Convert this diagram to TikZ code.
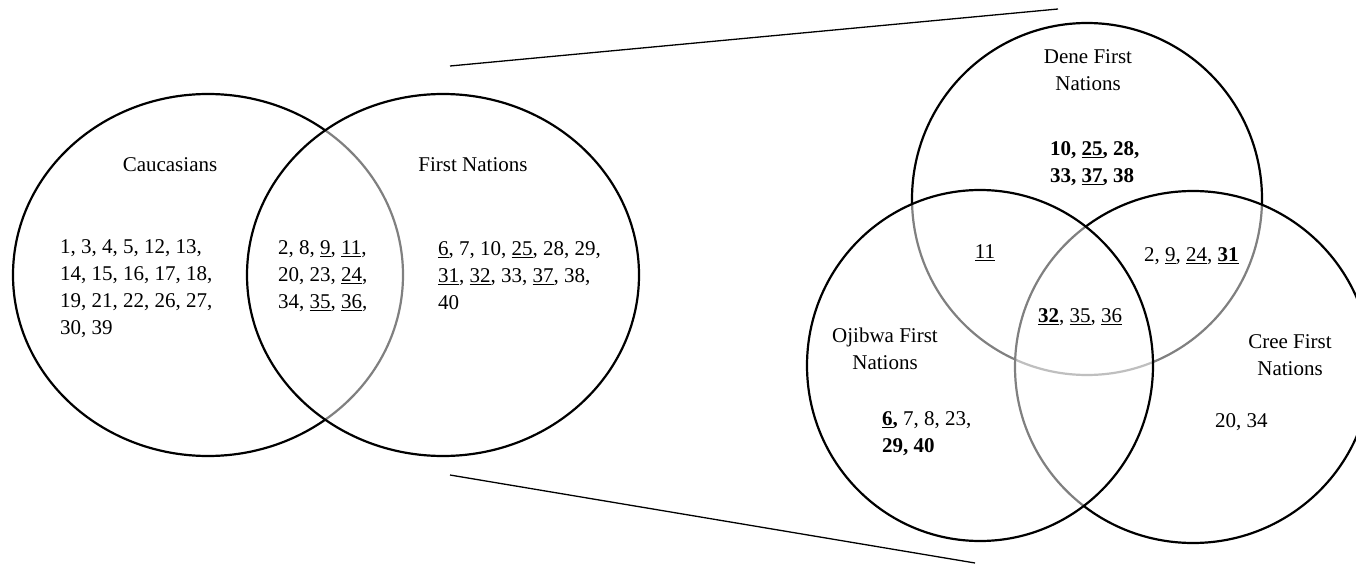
\documentclass[tikz,border=0pt]{standalone}
\usepackage{fontspec}
\setmainfont{Liberation Serif}
\usetikzlibrary{shapes.geometric}
\newcommand{\un}[1]{\underline{#1}}
\tikzset{
  venn/.style={ellipse, draw=black, line width=2.2pt, inner sep=0pt, outer sep=0pt},
  veil/.style={venn, fill=white, fill opacity=0.5},
  zoomline/.style={line width=1.3pt, black},
  lbl/.style={align=center, inner sep=0pt},
  nums/.style={align=left, anchor=west, inner sep=0pt},
}
\begin{document}
\begin{tikzpicture}[x=1pt, y=-1pt, font=\fontsize{21}{27}\selectfont]
\clip (0,0) rectangle (1356,564);
% left two-set diagram
\node[venn, minimum width=390pt, minimum height=362pt] (cau) at (208,275) {};
\node[veil, minimum width=392pt, minimum height=362pt] (fn) at (443,275) {};
% zoom lines
\coordinate (t1) at (450,66);
\coordinate (t2) at (1058,9);
\coordinate (b1) at (450,475);
\coordinate (b2) at (975,563);
\draw[zoomline] (t1) -- (t2);
\draw[zoomline] (b1) -- (b2);
% right three-set diagram
\node[venn, minimum width=350pt, minimum height=352pt] (dene) at (1087,199) {};
\node[veil, minimum width=356pt, minimum height=352pt] (cree) at (1193,367) {};
\node[veil, minimum width=346pt, minimum height=351pt] (ojib) at (980,365.5) {};
% left labels
\node[lbl] (caul) at (170,165) {Caucasians};
\node[lbl] (fnl) at (473,165) {First Nations};
\node[nums] (caun) at (60,289) {1, 3, 4, 5, 12, 13,\\14, 15, 16, 17, 18,\\19, 21, 22, 26, 27,\\30, 39};
\node[nums] (bothn) at (278,276) {2, 8, \un{9}, \un{11},\\20, 23, \un{24},\\34, \un{35}, \un{36},};
\node[nums] (fnn) at (438,276) {\un{6}, 7, 10, \un{25}, 28, 29,\\\un{31}, \un{32}, 33, \un{37}, 38,\\40};
% right labels
\node[lbl] (denel) at (1088,70) {Dene First\\Nations};
\node[nums] (denen) at (1050,164) {\textbf{10, \un{25}, 28,}\\\textbf{33, \un{37}, 38}};
\node[lbl] (doj) at (985,253) {\un{11}};
\node[nums] (dcr) at (1144,256) {2, \un{9}, \un{24}, \textbf{\un{31}}};
\node[nums] (allthree) at (1038,317) {\textbf{\un{32}}, \un{35}, \un{36}};
\node[lbl] (ojl) at (885,349) {Ojibwa First\\Nations};
\node[nums] (ojn) at (882,434) {\textbf{\un{6},} 7, 8, 23,\\\textbf{29, 40}};
\node[lbl] (crel) at (1290,355) {Cree First\\Nations};
\node[nums] (cren) at (1215,422) {20, 34};
\end{tikzpicture}
\end{document}
